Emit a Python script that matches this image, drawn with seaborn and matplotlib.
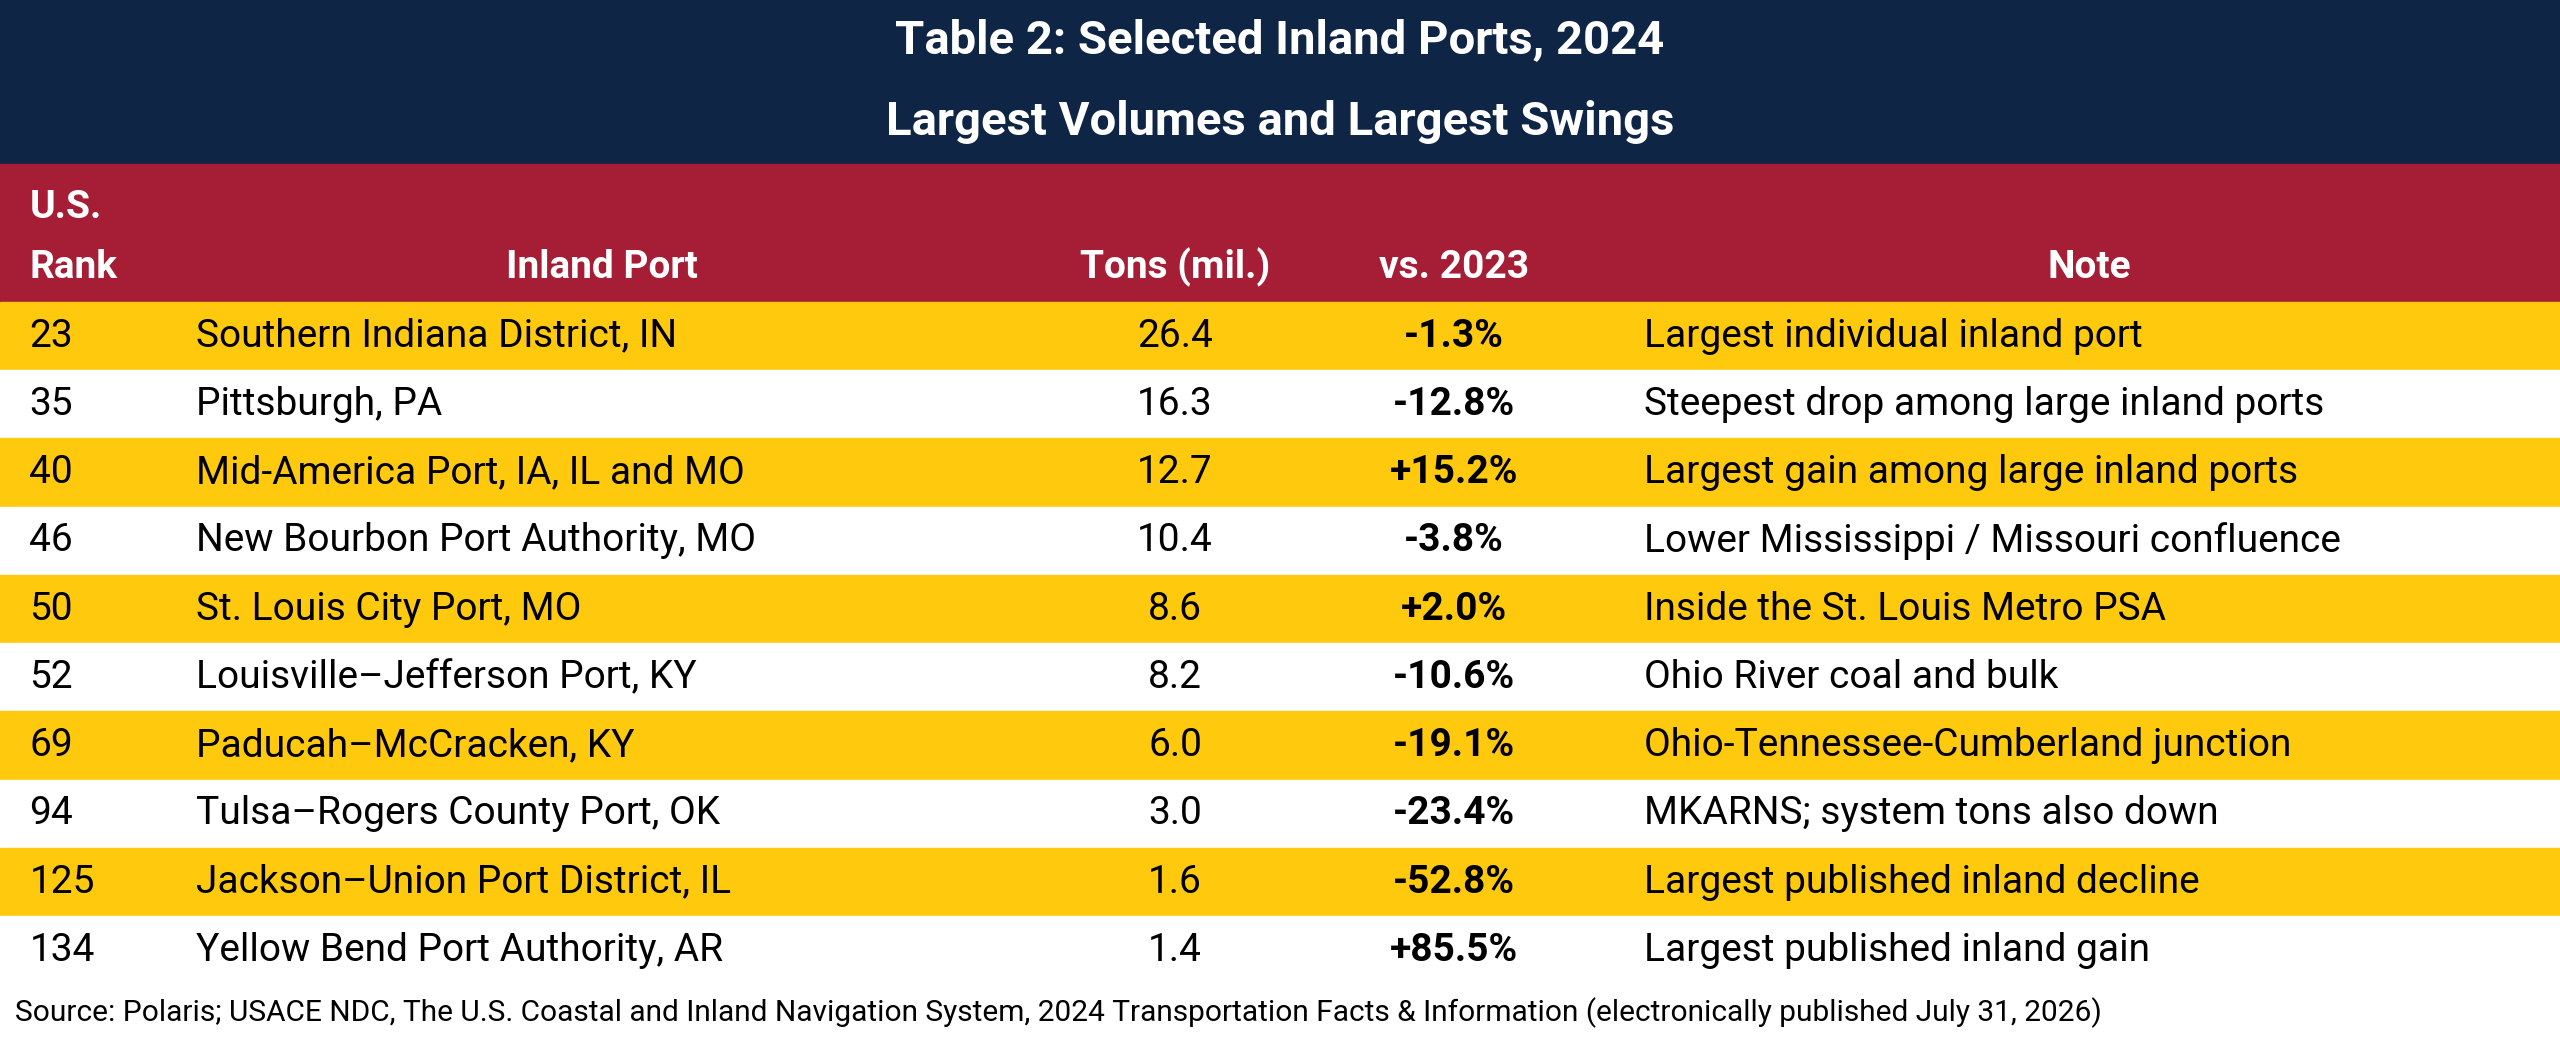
import matplotlib.pyplot as plt
import seaborn as sns

ranks = [23, 35, 40, 46, 50, 52, 69, 94, 125, 134]
ports = ['Southern Indiana District, IN', 'Pittsburgh, PA', 'Mid-America Port, IA, IL and MO',
         'New Bourbon Port Authority, MO', 'St. Louis City Port, MO', 'Louisville\u2013Jefferson Port, KY',
         'Paducah\u2013McCracken, KY', 'Tulsa\u2013Rogers County Port, OK', 'Jackson\u2013Union Port District, IL',
         'Yellow Bend Port Authority, AR']
tons = [26.4, 16.3, 12.7, 10.4, 8.6, 8.2, 6.0, 3.0, 1.6, 1.4]
change = [-1.3, -12.8, 15.2, -3.8, 2.0, -10.6, -19.1, -23.4, -52.8, 85.5]
notes = ['Largest individual inland port', 'Steepest drop among large inland ports',
         'Largest gain among large inland ports', 'Lower Mississippi / Missouri confluence',
         'Inside the St. Louis Metro PSA', 'Ohio River coal and bulk',
         'Ohio-Tennessee-Cumberland junction', 'MKARNS; system tons also down',
         'Largest published inland decline', 'Largest published inland gain']

navy = '#0F2546'
red = '#A51E36'
gold = '#FFC90E'

sns.set_theme(style='white')
plt.rcParams['font.family'] = ['Roboto', 'DejaVu Sans']

fig = plt.figure(figsize=(25.6, 10.45), dpi=100)
ax = fig.add_axes([0, 0, 1, 1])
ax.set_xlim(0, 1)
ax.set_ylim(1, 0)
ax.axis('off')

ax.axhspan(0, 0.157, color=navy)
ax.axhspan(0.157, 0.289, color=red)
row_h = 0.0653
top = 0.289
for i in range(len(ranks)):
    y0 = top + i * row_h
    ax.axhspan(y0, y0 + row_h, color=gold if i % 2 == 0 else 'white')

ax.text(0.5, 0.038, 'Table 2: Selected Inland Ports, 2024', ha='center', va='center',
        color='white', fontsize=34, fontweight='bold')
ax.text(0.5, 0.117, 'Largest Volumes and Largest Swings', ha='center', va='center',
        color='white', fontsize=34, fontweight='bold')

hk = dict(color='white', fontsize=28, fontweight='bold', va='center')
ax.text(0.0115, 0.199, 'U.S.', ha='left', **hk)
ax.text(0.0115, 0.256, 'Rank', ha='left', **hk)
ax.text(0.235, 0.256, 'Inland Port', ha='center', **hk)
ax.text(0.459, 0.256, 'Tons (mil.)', ha='center', **hk)
ax.text(0.568, 0.256, 'vs. 2023', ha='center', **hk)
ax.text(0.816, 0.256, 'Note', ha='center', **hk)

for i in range(len(ranks)):
    yc = top + (i + 0.5) * row_h
    ax.text(0.0115, yc, str(ranks[i]), ha='left', va='center', fontsize=28, color='black')
    ax.text(0.0765, yc, ports[i], ha='left', va='center', fontsize=28, color='black')
    ax.text(0.459, yc, f'{tons[i]:.1f}', ha='center', va='center', fontsize=28, color='black')
    ax.text(0.568, yc, f'{change[i]:+.1f}%', ha='center', va='center', fontsize=28,
            color='black', fontweight='bold')
    ax.text(0.642, yc, notes[i], ha='left', va='center', fontsize=28, color='black')

ax.text(0.006, 0.969, 'Source: Polaris; USACE NDC, The U.S. Coastal and Inland Navigation System, '
        '2024 Transportation Facts & Information (electronically published July 31, 2026)',
        ha='left', va='center', fontsize=21.5, color='black')

fig.savefig('out.png', dpi=100)
